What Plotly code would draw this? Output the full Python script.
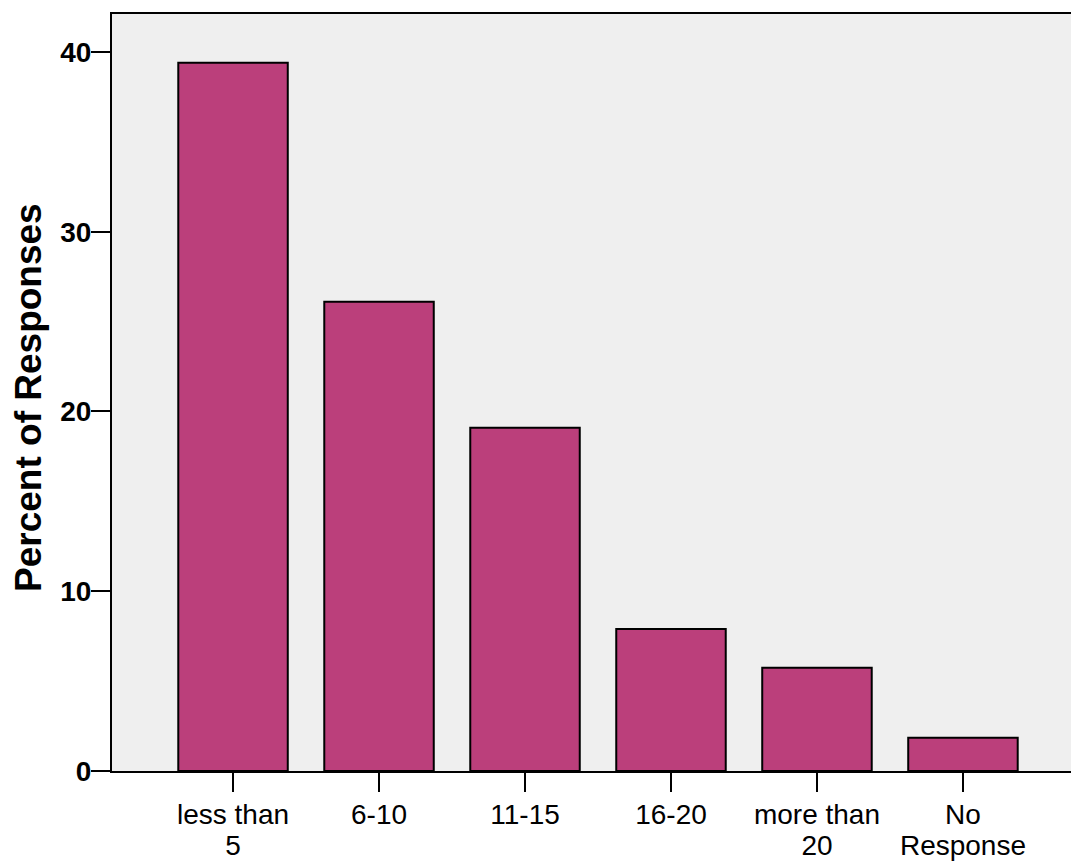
import plotly.graph_objects as go

categories_line1 = ["less than", "6-10", "11-15", "16-20", "more than", "No"]
categories_line2 = ["5", "", "", "", "20", "Response"]
percent = [39.4, 26.1, 19.1, 7.9, 5.75, 1.85]
y_ticks = [0, 10, 20, 30, 40]

positions = list(range(len(categories_line1)))

fig = go.Figure()
fig.add_trace(go.Bar(
    x=positions,
    y=percent,
    width=0.75,
    marker=dict(color="#bb3f7b", line=dict(color="black", width=2)),
))
# empty trace so the second-line label axis is drawn
fig.add_trace(go.Scatter(x=[], y=[], xaxis="x2", yaxis="y", showlegend=False, hoverinfo="skip"))

x_range = [-0.829, 5.74]
font_family = "Liberation Sans, Arial, sans-serif"

fig.update_layout(
    width=1071, height=861,
    margin=dict(l=112, r=0, t=14, b=90, autoexpand=False),
    paper_bgcolor="white",
    plot_bgcolor="#efefef",
    showlegend=False,
    font=dict(family=font_family, color="black"),
    xaxis=dict(
        range=x_range,
        tickmode="array",
        tickvals=positions,
        ticktext=categories_line1,
        ticks="outside", ticklen=19, tickwidth=2, tickcolor="black",
        ticklabelstandoff=-2,
        tickfont=dict(size=28),
        showline=True, linewidth=2, linecolor="black", mirror=True,
        showgrid=False, zeroline=False,
    ),
    xaxis2=dict(
        overlaying="x", anchor="y", side="bottom",
        range=x_range,
        tickmode="array",
        tickvals=positions,
        ticktext=categories_line2,
        ticks="outside", ticklen=19, tickwidth=2, tickcolor="rgba(0,0,0,0)",
        ticklabelstandoff=30,
        tickfont=dict(size=28),
        showline=False, showgrid=False, zeroline=False,
    ),
    yaxis=dict(
        range=[0, 42.11],
        tickmode="array",
        tickvals=y_ticks,
        ticktext=[f"<b>{v}</b>" for v in y_ticks],
        ticks="outside", ticklen=19, tickwidth=2, tickcolor="black",
        ticklabelstandoff=-6,
        tickfont=dict(size=28),
        showline=True, linewidth=2, linecolor="black",
        showgrid=False, zeroline=False,
        title=dict(text="<b>Percent of Responses\u00a0</b>", font=dict(size=37), standoff=7),
    ),
)

fig.write_html(
    "out.html",
    config={"displayModeBar": False},
    post_script="document.body.style.margin='0';document.body.style.overflow='hidden';",
)
